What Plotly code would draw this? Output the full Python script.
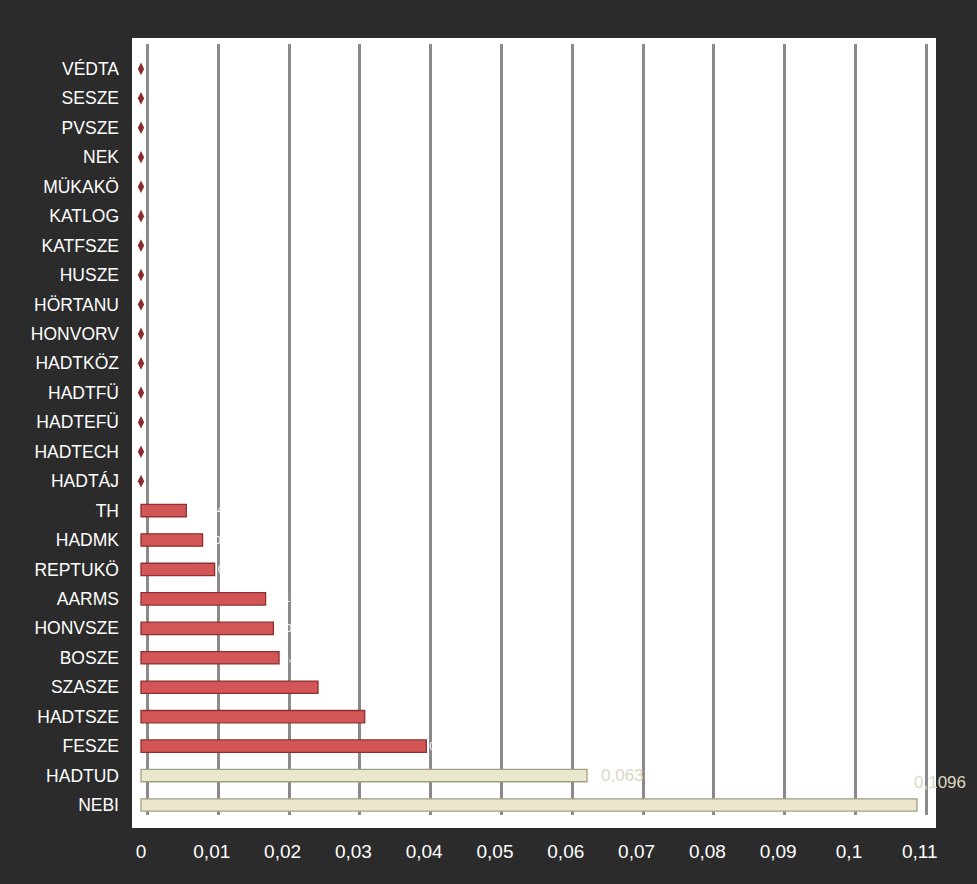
import plotly.graph_objects as go

categories = ["NEBI", "HADTUD", "FESZE", "HADTSZE", "SZASZE", "BOSZE", "HONVSZE",
              "AARMS", "REPTUKÖ", "HADMK", "TH", "HADTÁJ", "HADTECH", "HADTEFÜ",
              "HADTFÜ", "HADTKÖZ", "HONVORV", "HÖRTANU", "HUSZE", "KATFSZE",
              "KATLOG", "MÜKAKÖ", "NEK", "PVSZE", "SESZE", "VÉDTA"]
values = [0.1096, 0.063, 0.0403, 0.0316, 0.025, 0.0195, 0.0187,
          0.0176, 0.0104, 0.0087, 0.0064, 0, 0, 0,
          0, 0, 0, 0, 0, 0,
          0, 0, 0, 0, 0, 0]
group = ["beige", "beige"] + ["red"] * (len(categories) - 2)

tick_vals = [0, 0.01, 0.02, 0.03, 0.04, 0.05, 0.06, 0.07, 0.08, 0.09, 0.1, 0.11]
tick_text = ["0", "0,01", "0,02", "0,03", "0,04", "0,05", "0,06", "0,07", "0,08", "0,09", "0,1", "0,11"]

FONT = "Liberation Sans, Arial, sans-serif"

def fmt(v):
    return ("%g" % v).replace(".", ",")

red_c = [c for c, g, v in zip(categories, group, values) if g == "red" and v > 0]
red_v = [v for c, g, v in zip(categories, group, values) if g == "red" and v > 0]
beige_c = [c for c, g in zip(categories, group) if g == "beige"]
beige_v = [v for v, g in zip(values, group) if g == "beige"]
zero_c = [c for c, v in zip(categories, values) if v == 0]
zero_v = [v for v in values if v == 0]

fig = go.Figure()

# invisible trace hosting the gridline subplot (x / y)
fig.add_trace(go.Scatter(x=[0], y=[0.5], xaxis="x", yaxis="y", mode="markers",
                         marker=dict(size=1, color="rgba(0,0,0,0)"),
                         hoverinfo="skip", showlegend=False))

fig.add_trace(go.Bar(
    x=red_v, y=red_c, orientation="h", width=0.42, xaxis="x2", yaxis="y2",
    marker=dict(color="#d35656", line=dict(color="#8f2f30", width=1.3)),
    text=[fmt(v) for v in red_v], textposition="outside",
    textfont=dict(color="#ffffff", size=17, family=FONT),
    cliponaxis=False, showlegend=False))

fig.add_trace(go.Bar(
    x=beige_v, y=beige_c, orientation="h", width=0.42, xaxis="x2", yaxis="y2",
    marker=dict(color="#ebe7cd", line=dict(color="#a29e85", width=1.3)),
    showlegend=False))

fig.add_trace(go.Scatter(
    x=zero_v, y=zero_c, mode="markers", xaxis="x2", yaxis="y2",
    marker=dict(symbol="diamond-tall", size=9, color="#8a2a2c"),
    showlegend=False, cliponaxis=False))

# value labels for the beige bars
label_shift = {"NEBI": (-5, 23), "HADTUD": (12, 0)}
for c, v in zip(beige_c, beige_v):
    xs, ys = label_shift[c]
    fig.add_annotation(x=v, y=c, xref="x2", yref="y2", text=fmt(v), showarrow=False,
                       xanchor="left", xshift=xs, yshift=ys,
                       font=dict(color="#dcd8c2", size=17, family=FONT))

# white plot-area panel
fig.add_shape(type="rect", xref="paper", yref="paper", x0=0, x1=1, y0=0, y1=1,
              fillcolor="#ffffff", line=dict(width=0), layer="below")

fig.update_layout(
    width=977, height=884,
    margin=dict(l=132, r=41, t=38, b=56),
    paper_bgcolor="#2b2b2b", plot_bgcolor="rgba(0,0,0,0)",
    # gridline axes
    xaxis=dict(domain=[0, 1], anchor="y", range=[-0.00219, 0.11137], tickvals=tick_vals,
               showticklabels=False, showgrid=True, gridcolor="#8a8a8a", gridwidth=3,
               zeroline=False, ticks="", showline=False),
    yaxis=dict(domain=[0.0165, 0.992], anchor="x", range=[0, 1], visible=False,
               showgrid=False, zeroline=False),
    # bar axes
    xaxis2=dict(domain=[0, 1], anchor="y2", range=[-0.00127, 0.11229], tickvals=tick_vals,
                ticktext=tick_text, showgrid=False, zeroline=False, ticks="",
                ticklabelstandoff=10, tickfont=dict(color="#ffffff", size=19, family=FONT)),
    yaxis2=dict(domain=[0, 1], anchor="x2", categoryorder="array", categoryarray=categories,
                range=[-0.781, 26.05], showgrid=False, zeroline=False, ticks="",
                ticklabelstandoff=12, tickfont=dict(color="#ffffff", size=17.5, family=FONT)),
)

fig.write_html("out.html", config={"displayModeBar": False}, post_script=(
    "document.body.style.margin='0';"
    "document.body.style.background='#2b2b2b';"
    "document.body.style.overflow='hidden';"))
